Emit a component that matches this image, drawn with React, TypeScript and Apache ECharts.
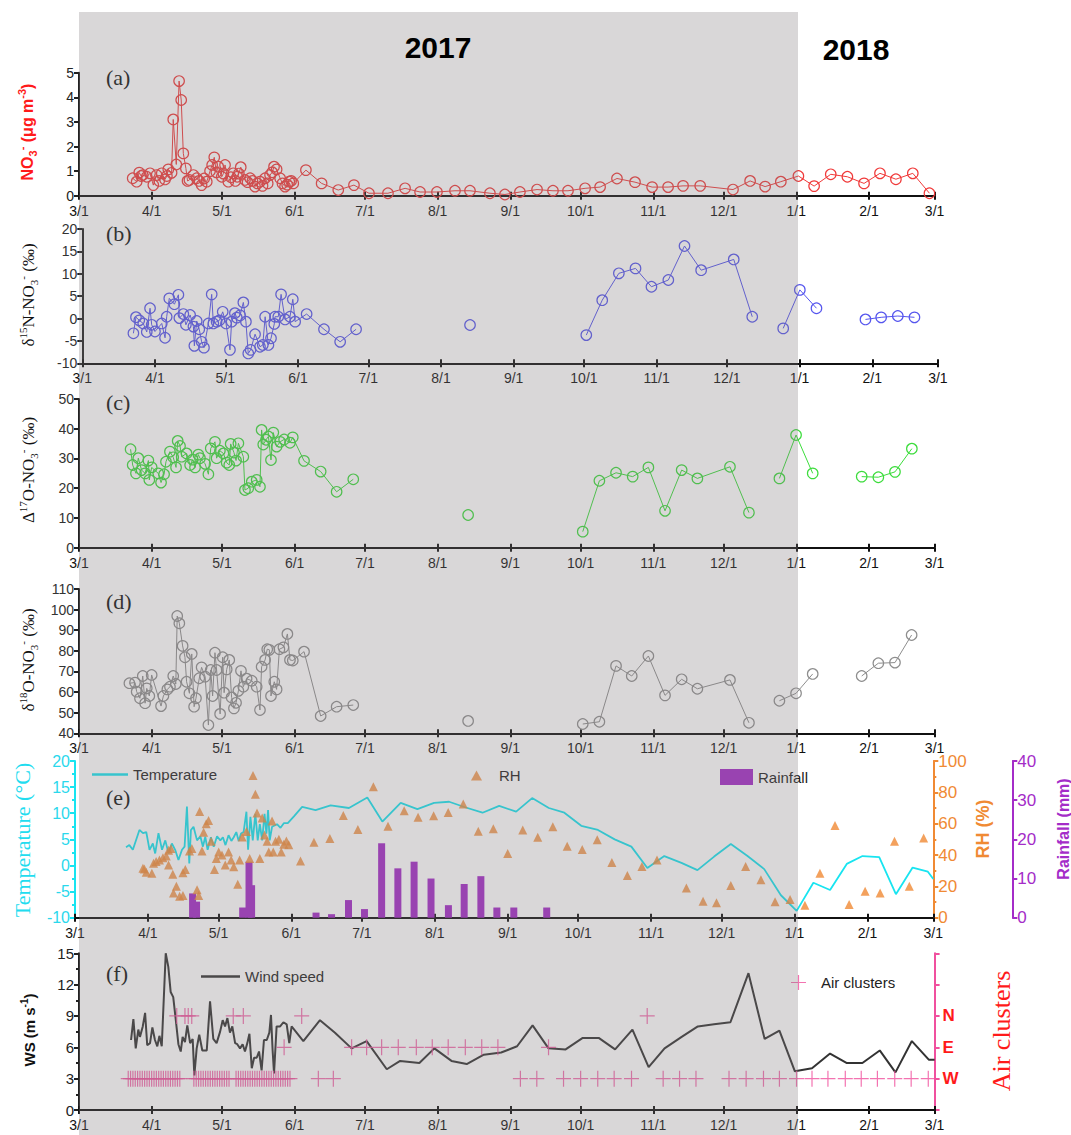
import React, { useEffect, useRef } from 'react';
import * as echarts from 'echarts';

// ---------- x-axis: days since 2017-03-01 ----------
const DAY = 86400000;
const T0 = Date.UTC(2017, 2, 1);
const monthTicks = [
  '2017-03-01', '2017-04-01', '2017-05-01', '2017-06-01', '2017-07-01', '2017-08-01', '2017-09-01',
  '2017-10-01', '2017-11-01', '2017-12-01', '2018-01-01', '2018-02-01', '2018-03-01',
];
const yearLabels = ['2017', '2018'];

// ---------- (a) NO3- (ug m-3) ----------
const no3: [number, number | null][] = [
  [22.9, 0.71], [24.6, 0.57], [25.7, 0.94], [26.5, 0.8], [27.2, 0.84], [28.9, 0.77], [30.3, 0.91], [31.7, 0.43],
  [33.1, 0.84], [34.2, 0.6], [35.3, 0.91], [36.7, 0.66], [37.5, 0.8], [38.1, 1.07], [39.5, 0.93], [40.2, 3.1],
  [41.5, 1.27], [42.7, 4.66], [43.6, 3.89], [44.5, 1.72], [45.6, 1.11], [46.3, 0.6], [47.1, 0.64], [48.8, 0.84],
  [50.2, 0.71], [51.2, 0.6], [52.3, 0.43], [53.4, 0.7], [54.5, 0.57], [55.9, 1.0], [56.8, 1.25], [57.7, 1.56],
  [58.6, 0.95], [59.4, 1.18], [60.9, 0.77], [61.6, 0.9], [62.3, 1.25], [63.7, 0.57], [64.8, 0.75], [65.8, 0.91],
  [66.7, 0.6], [67.5, 0.77], [68.2, 0.9], [69.0, 1.16], [70.8, 0.64], [71.9, 0.55], [73.0, 0.71], [74.0, 0.6],
  [75.1, 0.37], [76.1, 0.5], [77.2, 0.57], [78.3, 0.4], [79.4, 0.71], [80.5, 0.5], [81.5, 0.84], [82.4, 0.95],
  [83.2, 1.18], [84.3, 1.07], [85.8, 0.71], [86.8, 0.5], [87.9, 0.37], [88.8, 0.45], [89.7, 0.57], [90.5, 0.6],
  [91.4, 0.5], [96.8, 1.04], [103.5, 0.5], [110.6, 0.23], [117.3, 0.43], [123.7, 0.1], [131.8, 0.1], [139.1, 0.3],
  [145.5, 0.15], [152.7, 0.15], [160.4, 0.2], [166.8, 0.2], [175.3, 0.1], [181.7, 0.05], [188.1, 0.15], [195.4, 0.25],
  [202.2, 0.2], [208.6, 0.2], [215.9, 0.3], [222.3, 0.35], [229.5, 0.7], [237.2, 0.55], [244.5, 0.35], [251.3, 0.35],
  [257.7, 0.4], [265.0, 0.4], [279.0, 0.25], [286.3, 0.6], [292.7, 0.37], [299.4, 0.57], [306.9, 0.8], [313.6, 0.39],
  [320.7, 0.87], [327.8, 0.77], [334.9, 0.5], [341.7, 0.91], [348.5, 0.67], [355.7, 0.91], [362.8, 0.1],
];

// ---------- (b) d15N-NO3- ----------
const d15N: [number, number | null][] = [
  [21.8, -3.3], [22.9, 0.3], [24.3, -0.4], [26.0, -1.1], [27.5, -3.0], [28.9, 2.3], [29.6, -1.4], [31.0, -2.9],
  [33.9, -1.1], [35.3, -4.3], [36.0, 0.4], [37.1, 4.5], [39.3, 3.2], [41.0, 5.3], [41.4, 0.1], [43.1, 1.0],
  [44.2, -1.4], [46.0, 0.8], [47.4, -1.8], [47.8, -6.1], [48.8, -0.55], [49.9, -2.4], [50.9, -5.2], [51.9, -6.5],
  [53.8, -1.1], [55.2, 5.4], [55.9, -1.1], [57.3, -0.7], [58.5, -0.4], [59.9, 1.5], [61.3, -1.1], [63.0, -7.0],
  [63.7, -0.7], [65.1, 1.2], [65.9, 0.2], [67.3, 0.7], [68.7, 3.6], [69.8, -0.7], [70.8, -7.8], [71.8, -7.0],
  [73.7, -3.5], [75.8, -6.3], [77.0, -5.9], [78.0, 0.4], [79.4, -5.9], [80.5, -4.4], [81.9, -1.2], [82.2, 0.4],
  [83.6, 0.4], [84.8, 5.4], [86.5, -0.2], [88.6, 0.4], [89.8, 4.3], [90.8, -0.7], [95.7, 1.0], [103.1, -2.4],
  [110.0, -5.2], [116.8, -2.4], [140, null], [165.4, -1.45], [190, null], [215.0, -3.7], [221.8, 4.1],
  [228.9, 10.1], [236.0, 11.2], [242.8, 7.1], [250.0, 8.6], [256.9, 16.2], [264.0, 10.8], [277.9, 13.2],
  [285.8, 0.4], [292, null], [299.0, -2.2], [306.1, 6.4], [313.2, 2.3], [324, null], [334.1, -0.2],
  [340.8, 0.27], [347.9, 0.56], [355.0, 0.27],
];

// ---------- (c) D17O-NO3- ----------
const D17O: [number, number | null][] = [
  [22.0, 33.1], [22.9, 27.8], [24.3, 25.0], [25.3, 30.1], [26.7, 26.1], [28.2, 25.0], [29.6, 29.3], [30.0, 22.8],
  [31.0, 27.0], [33.8, 25.0], [35.0, 21.9], [36.3, 24.7], [37.1, 28.9], [38.8, 32.3], [40.2, 30.4], [41.4, 27.0],
  [42.1, 35.9], [43.1, 34.2], [43.8, 30.6], [45.9, 31.7], [47.4, 27.8], [48.5, 29.6], [49.5, 27.0], [50.9, 31.3],
  [51.6, 30.1], [53.8, 28.2], [55.2, 24.7], [56.2, 33.4], [58.0, 35.6], [58.7, 30.1], [60.1, 32.6], [61.6, 31.7],
  [63.0, 28.6], [64.1, 27.8], [64.7, 34.9], [66.1, 32.0], [67.0, 29.3], [68.0, 35.1], [70.1, 30.6], [70.8, 19.4],
  [72.2, 20.0], [73.7, 22.2], [75.8, 22.8], [77.2, 20.5], [77.9, 39.6], [78.6, 34.7], [79.8, 36.3], [80.8, 37.4],
  [81.9, 29.5], [82.9, 38.7], [84.3, 34.0], [85.8, 35.6], [87.5, 36.4], [90.0, 35.3], [91.2, 37.1], [96.0, 29.2],
  [103.1, 25.6], [109.9, 18.8], [117.0, 23.0], [140, null], [166.0, 11.0], [190, null], [214.9, 5.4],
  [222.0, 22.5], [229.1, 25.2], [236.2, 23.9], [242.9, 27.0], [250.0, 12.4], [257.1, 26.1], [263.8, 23.3],
  [277.7, 27.2], [285.8, 11.8], [292, null], [298.8, 23.3], [305.9, 37.9], [313.0, 25.0], [324, null],
  [333.9, 23.9], [341.0, 23.7], [348.1, 25.5], [355.3, 33.3],
];

// ---------- (d) d18O-NO3- ----------
const d18O: [number, number | null][] = [
  [21.5, 64.3], [23.9, 64.6], [24.6, 60.2], [26.0, 57.0], [27.2, 67.8], [28.2, 54.6], [28.9, 61.8], [30.0, 58.1],
  [31.0, 68.3], [35.0, 53.2], [36.0, 58.1], [37.7, 61.3], [38.8, 62.6], [40.2, 67.8], [41.3, 63.9], [41.9, 96.9],
  [42.8, 93.4], [44.2, 82.4], [45.2, 76.9], [45.9, 65.0], [47.1, 59.4], [48.1, 78.5], [49.1, 52.9], [49.9, 57.0],
  [51.3, 66.7], [52.3, 72.0], [53.8, 67.5], [55.2, 44.0], [56.2, 70.7], [57.0, 58.1], [58.0, 79.1], [58.7, 70.7],
  [60.2, 49.4], [61.3, 76.9], [61.9, 59.7], [63.0, 71.0], [64.1, 75.6], [65.1, 57.4], [66.1, 52.1], [67.0, 54.8],
  [68.0, 60.6], [69.1, 70.3], [70.1, 62.6], [71.5, 66.5], [73.7, 65.5], [75.8, 62.6], [77.2, 51.3], [77.9, 72.3],
  [79.4, 75.6], [80.3, 80.8], [81.2, 80.5], [81.9, 58.1], [83.3, 65.0], [84.3, 61.3], [85.5, 80.8], [87.2, 81.7],
  [88.9, 88.2], [90.0, 75.6], [91.2, 75.3], [96.0, 79.6], [103.1, 48.4], [109.9, 52.9], [117.0, 53.7],
  [140, null], [166.0, 46.0], [190, null], [214.9, 44.5], [222.0, 45.6], [229.1, 72.7], [235.8, 67.8],
  [242.9, 77.5], [250.0, 58.4], [257.1, 66.2], [263.8, 61.6], [277.7, 65.9], [285.8, 45.1], [292, null],
  [298.8, 55.8], [305.9, 59.4], [313.0, 68.8], [324, null], [333.9, 67.8], [341.0, 74.0], [348.1, 74.3],
  [355.2, 87.7],
];

// ---------- (e) Temperature (°C), RH (%), Rainfall (mm) ----------
const temperature: [number, number][] = [
  [21.7, 3.5], [23.1, 3.9], [24.6, 3.0], [27.4, 6.8], [28.9, 6.2], [30.3, 6.4], [31.7, 3.0], [33.1, 4.2],
  [34.1, 2.3], [35.5, 6.2], [37.0, 3.0], [38.4, 4.8], [39.8, 2.3], [41.2, 4.2], [42.6, 3.0], [44.0, 1.05],
  [45.5, 3.0], [46.6, 3.6], [47.6, 11.3], [48.6, 0.4], [49.3, 6.8], [50.4, 7.4], [51.9, 4.8], [53.3, 5.6],
  [54.4, 3.6], [55.4, 5.5], [56.4, 3.0], [57.8, 5.4], [59.0, 3.6], [60.4, 5.6], [61.8, 4.8], [62.9, 5.4],
  [64.0, 3.9], [65.3, 5.8], [66.5, 4.7], [67.5, 5.4], [68.6, 6.4], [69.6, 4.7], [70.6, 6.1], [71.7, 6.4],
  [72.9, 10.3], [73.6, 3.0], [74.6, 9.3], [75.6, 4.8], [76.7, 9.9], [77.7, 4.8], [78.6, 7.9], [79.6, 4.8],
  [80.6, 9.9], [81.4, 6.1], [82.1, 10.6], [82.8, 4.8], [83.8, 7.4], [85.9, 7.9], [87.4, 7.2], [88.8, 8.1],
  [90.5, 8.1], [93.1, 9.4], [96.6, 11.2], [102.3, 10.6], [108.7, 11.5], [116.5, 11.0], [124.3, 13.0],
  [130.7, 8.4], [138.5, 12.0], [145.6, 10.8], [152.7, 12.0], [159.1, 12.2], [166.2, 11.1], [173.3, 10.1],
  [180.4, 11.4], [187.6, 10.3], [194.4, 12.9], [201.5, 11.0], [208.1, 10.1], [215.3, 7.6], [222.4, 6.8],
  [229.5, 5.0], [236.6, 3.6], [243.4, -0.5], [250.6, 1.8], [257.9, 0.5], [264.7, -0.9], [271.8, 1.7],
  [278.9, 4.1], [286.0, 1.8], [293.1, -0.7], [300.2, -5.7], [306.9, -8.7], [314.0, -3.3], [321.1, -4.7],
  [328.2, 0.3], [334.9, 1.8], [342.0, 1.6], [349.1, -5.5], [356.2, -0.4], [362.7, -1.2], [365.0, -2.6],
];

const rh: [number, number][] = [
  [28.9, 31.5], [29.5, 31.1], [30.3, 29.0], [32.7, 28.3], [33.4, 34.7], [34.5, 35.8], [35.9, 36.8], [37.4, 38.2],
  [38.8, 39.3], [39.8, 43.1], [39.8, 33.6], [40.8, 44.2], [41.6, 27.7], [41.9, 15.8], [43.1, 20.0], [44.5, 13.7],
  [45.9, 14.2], [45.9, 28.7], [46.9, 30.8], [48.7, 42.5], [49.7, 44.2], [51.9, 17.9], [52.6, 14.2], [53.0, 67.7],
  [54.0, 42.5], [54.7, 54.6], [55.8, 59.9], [56.8, 62.0], [57.9, 48.8], [59.3, 30.8], [60.1, 37.8], [61.1, 42.0],
  [62.5, 40.0], [63.9, 33.6], [65.3, 42.0], [66.4, 36.8], [67.5, 32.5], [69.2, 21.4], [70.0, 36.8], [71.1, 51.5],
  [72.9, 55.0], [74.3, 37.8], [75.7, 90.7], [76.7, 78.8], [77.4, 66.8], [78.6, 37.8], [79.6, 63.6], [80.6, 52.7],
  [81.7, 48.8], [82.4, 42.0], [83.8, 61.7], [84.3, 42.0], [85.3, 48.8], [86.7, 50.0], [87.7, 42.0], [88.8, 46.9],
  [89.9, 49.0], [90.9, 46.5], [95.9, 36.2], [101.6, 48.1], [108.4, 50.6], [114.1, 65.2], [120.3, 56.3],
  [126.9, 83.6], [133.1, 58.4], [140.0, 68.3], [145.9, 64.1], [152.5, 65.1], [158.7, 67.2], [165.1, 72.5],
  [171.5, 55.1], [177.9, 56.7], [184.0, 41.0], [190.4, 56.0], [196.8, 51.4], [203.2, 58.1], [209.3, 45.6],
  [215.7, 43.5], [222.1, 49.8], [228.3, 35.3], [234.9, 26.9], [241.1, 32.6], [247.5, 36.8], [260.0, 18.9],
  [267.1, 10.5], [272.8, 9.5], [278.9, 20.6], [285.2, 32.6], [291.7, 24.2], [297.7, 10.1], [304.1, 11.6],
  [310.4, 8.0], [316.8, 28.4], [323.2, 58.9], [329.2, 8.4], [336.0, 16.8], [342.4, 15.8], [348.5, 48.8],
  [354.8, 20.1], [360.9, 50.9],
];

const rainfall: [number, number][] = [
  [50.0, 6.2], [51.7, 4.1], [71.3, 2.6], [74.0, 14.3], [75.1, 8.3], [102.5, 1.3], [109.1, 0.9], [116.3, 4.5],
  [123.1, 2.2], [130.4, 19.0], [137.3, 12.6], [144.2, 14.3], [151.4, 10.0], [158.8, 3.2], [165.5, 8.6],
  [172.6, 10.6], [179.4, 2.6], [186.6, 2.6], [200.6, 2.6],
];

// ---------- (f) Wind speed (m s-1), Air clusters ----------
const windSpeed: [number, number][] = [
  [22.2, 6.7], [23.2, 8.7], [24.2, 5.9], [25.3, 7.7], [26.0, 7.0], [27.2, 8.0], [28.2, 9.3], [29.1, 6.2],
  [30.3, 6.4], [31.3, 7.9], [32.4, 6.7], [33.4, 6.1], [34.3, 7.1], [35.3, 6.1], [37.0, 15.0], [38.1, 13.7],
  [39.1, 11.3], [40.2, 10.8], [41.3, 8.6], [42.4, 6.3], [43.4, 5.6], [44.2, 7.0], [45.2, 6.5], [46.2, 8.1],
  [47.4, 6.4], [48.5, 6.8], [49.2, 3.3], [50.2, 5.9], [51.3, 7.2], [52.6, 5.7], [54.5, 5.7], [55.9, 10.4],
  [57.3, 6.8], [58.7, 6.4], [60.2, 7.5], [61.3, 8.6], [62.3, 8.0], [63.3, 8.8], [64.4, 7.4], [65.4, 8.0],
  [66.6, 6.4], [67.5, 6.3], [68.7, 5.9], [69.8, 6.3], [70.8, 5.6], [71.8, 6.4], [72.7, 7.3], [73.7, 4.0],
  [74.7, 5.0], [75.8, 5.0], [76.8, 5.6], [77.9, 3.8], [78.9, 6.7], [80.1, 6.7], [81.2, 7.4], [81.9, 9.1],
  [82.6, 5.7], [83.2, 3.5], [84.3, 8.0], [85.8, 8.0], [87.2, 8.4], [88.6, 8.2], [89.7, 6.4], [90.7, 8.0],
  [95.7, 6.6], [102.8, 8.6], [109.2, 7.4], [116.3, 5.9], [122.7, 6.6], [131.3, 3.9], [137.0, 4.7],
  [145.2, 4.5], [151.6, 5.9], [158.9, 4.7], [165.4, 4.4], [172.7, 5.3], [180.1, 5.5], [186.9, 6.1],
  [193.5, 8.1], [200.3, 5.9], [207.6, 5.8], [214.9, 6.9], [221.7, 6.9], [228.7, 5.8], [236.1, 7.7],
  [243.0, 4.1], [249.8, 5.9], [257.1, 7.0], [264.0, 8.0], [270.9, 8.2], [277.9, 8.4], [285.6, 13.1],
  [292.5, 6.8], [298.8, 7.6], [305.4, 3.7], [312.7, 4.0], [320.4, 5.4], [327.4, 4.5], [334.2, 4.5],
  [341.6, 5.7], [348.3, 3.6], [355.3, 6.6], [362.6, 4.8], [365.0, 4.8],
];

const clusterNames = ['W', 'E', 'N'];
const clusterW = [
  21, 22, 23, 24, 25, 26, 27, 28, 29, 30, 31, 32, 33, 34, 35, 36, 37, 38, 39, 40, 41, 42, 43,
  49, 50, 51, 52, 53, 54, 55, 56, 57, 58, 59, 60, 61, 62, 63, 64,
  67, 68, 69, 70, 71, 72, 73, 74, 75, 76, 77, 78, 79, 80, 81, 82, 83, 84, 85, 86, 87, 88, 89, 90,
  102.1, 108.5, 188.3, 195.3, 206.7, 214.0, 221.3, 228.3, 235.7, 249.2, 256.2, 263.2, 277.3, 284.6,
  292.0, 298.8, 306.1, 312.7, 319.5, 326.9, 333.7, 340.6, 348.0, 355.0, 362.3,
];
const clusterE = [87.5, 116.3, 122.7, 129.1, 136.2, 143.9, 150.7, 157.5, 164.8, 171.8, 178.7, 200.3];
const clusterN = [41.7, 45.2, 46.6, 48.1, 65.8, 70.1, 95.0, 242.4];

// ---------- helpers ----------
const SANS = "'Liberation Sans', Arial, sans-serif";
const SERIF = "'Liberation Serif', 'Times New Roman', serif";
const parseDay = (s: string) => {
  const [y, m, d] = s.split('-').map(Number);
  return Math.round((Date.UTC(y, m - 1, d) - T0) / DAY);
};
const monthDays = monthTicks.map(parseDay);
const X_MAX = monthDays[monthDays.length - 1];
const toData = (arr: [number, number | null][]) => arr.map(([d, v]) => [d, v === null ? '-' : v]);
const fmtDay = (v: number) => {
  const dt = new Date(T0 + v * DAY);
  return `${dt.getUTCMonth() + 1}/${dt.getUTCDate()}`;
};
const clusterLevel: Record<string, number> = { W: 3, E: 6, N: 9 };

const PLUS = 'path://M4.6,0H5.4V4.6H10V5.4H5.4V10H4.6V5.4H0V4.6H4.6Z';

const RED = '#f03a3a';
const BLUE = '#5656ee';
const GREEN = '#3cdc3c';
const GRAY = '#8e8e8e';
const CYAN = '#18e4f0';
const ORANGE = '#f08a34';
const PURPLE = '#a42cc8';
const PINK = '#f0509e';

const grids = [
  { left: 79, top: 72.7, width: 855.6, height: 123 },
  { left: 82.3, top: 229, width: 855.6, height: 134.3 },
  { left: 79, top: 399, width: 855.6, height: 148.7 },
  { left: 79, top: 589, width: 855.6, height: 144.3 },
  { left: 75, top: 761, width: 858.3, height: 156.7 },
  { left: 79, top: 953.3, width: 855.6, height: 156.7 },
];

function xAxis(i: number) {
  return {
    type: 'value',
    gridIndex: i,
    position: 'bottom',
    min: 0,
    max: X_MAX,
    axisLine: { show: true, onZero: false, lineStyle: { color: '#111', width: 2 } },
    axisTick: { show: true, customValues: monthDays, length: 4, lineStyle: { color: '#111', width: 2 } },
    axisLabel: {
      show: true, customValues: monthDays, formatter: fmtDay, fontSize: 14, color: '#111',
      fontFamily: SANS, margin: 8, hideOverlap: false, showMinLabel: true, showMaxLabel: true,
    },
    splitLine: { show: false },
  };
}

// second x-axis per grid: only inward ticks, so month ticks cross the axis line
function xAxisInner(i: number) {
  return {
    type: 'value',
    gridIndex: i,
    position: 'bottom',
    min: 0,
    max: X_MAX,
    axisLine: { show: false, onZero: false },
    axisTick: { show: true, inside: true, customValues: monthDays, length: 4, lineStyle: { color: '#111', width: 2 } },
    axisLabel: { show: false },
    splitLine: { show: false },
  };
}

function yAxis(gridIndex: number, min: number, max: number, interval: number, color: string, labelColor: string, extra: any = {}) {
  return {
    type: 'value',
    gridIndex,
    min,
    max,
    interval,
    axisLine: { show: true, onZero: false, lineStyle: { color, width: 2 } },
    axisTick: { show: true, length: 5, lineStyle: { color, width: 2 } },
    axisLabel: { show: true, fontSize: 14, color: labelColor, fontFamily: SANS, margin: 5 },
    splitLine: { show: false },
    ...extra,
  };
}

function circleLine(name: string, data: any[], color: string, i: number) {
  return {
    name,
    type: 'line',
    xAxisIndex: i,
    yAxisIndex: i,
    data,
    symbol: 'circle',
    symbolSize: 10.5,
    showSymbol: true,
    connectNulls: false,
    lineStyle: { color, width: 1 },
    itemStyle: { color: 'rgba(255,255,255,0)', borderColor: color, borderWidth: 1.2 },
    z: 3,
  };
}

function vText(x: number, y: number, text: string, rich: any, z = 110) {
  return {
    type: 'text',
    x,
    y,
    rotation: Math.PI / 2,
    z,
    silent: true,
    style: { text, rich, align: 'center', verticalAlign: 'middle' },
  };
}

function isoNameRich(color: string) {
  return {
    t: { fontSize: 17, fontFamily: SERIF, fill: color, lineHeight: 22 },
    s: { fontSize: 11, fontFamily: SERIF, fill: color, lineHeight: 11, verticalAlign: 'top' },
    d: { fontSize: 11, fontFamily: SERIF, fill: color, lineHeight: 11, verticalAlign: 'bottom' },
  };
}

export default function App() {
  const ref = useRef<HTMLDivElement>(null);

  useEffect(() => {
    if (!ref.current) return;
    const chart = echarts.init(ref.current, undefined, { renderer: 'svg' });

    const airData = [
      ...clusterW.map((d) => [d, clusterLevel[clusterNames[0]]]),
      ...clusterE.map((d) => [d, clusterLevel[clusterNames[1]]]),
      ...clusterN.map((d) => [d, clusterLevel[clusterNames[2]]]),
    ];

    const legendText = { fontSize: 15, color: '#222', fontFamily: SANS };

    const option: any = {
      animation: false,
      backgroundColor: '#ffffff',
      grid: grids.map((g) => ({ ...g, containLabel: false, outerBoundsMode: 'none' })),
      xAxis: [...grids.map((_, i) => xAxis(i)), ...grids.map((_, i) => xAxisInner(i))],
      yAxis: [
        yAxis(0, 0, 5, 1, '#222', '#222'),
        yAxis(1, -10, 20, 5, '#222', '#333'),
        yAxis(2, 0, 50, 10, '#222', '#333'),
        yAxis(3, 40, 110, 10, '#222', '#333'),
        yAxis(4, -10, 20, 5, CYAN, '#2ad8ec', {
          minorTick: { show: true, splitNumber: 2, length: 3, lineStyle: { color: CYAN, width: 2 } },
          axisLabel: { show: true, fontSize: 16, color: '#2ad8ec', fontFamily: SANS, margin: 5 },
        }),
        yAxis(4, 0, 100, 20, ORANGE, ORANGE, {
          position: 'right',
          minorTick: { show: true, splitNumber: 2, length: 3, lineStyle: { color: ORANGE, width: 2 } },
          axisLabel: { show: true, fontSize: 17, color: ORANGE, fontFamily: SANS, margin: 5 },
        }),
        yAxis(4, 0, 40, 10, PURPLE, PURPLE, {
          position: 'right',
          offset: 79,
          axisLabel: { show: true, fontSize: 17, color: PURPLE, fontFamily: SANS, margin: 5 },
        }),
        yAxis(5, 0, 15, 3, '#222', '#222', {
          minorTick: { show: true, splitNumber: 2, length: 3, lineStyle: { color: '#222', width: 2 } },
          axisLabel: { show: true, fontSize: 15, color: '#222', fontFamily: SANS, margin: 5 },
        }),
        yAxis(5, 0, 15, 3, PINK, '#ff1a1a', {
          position: 'right',
          axisLabel: {
            show: true, fontSize: 17, fontWeight: 'bold', color: '#ff1a1a', fontFamily: SANS, margin: 8,
            formatter: (v: number) => {
              const k = Object.keys(clusterLevel).find((c) => clusterLevel[c] === v);
              return k || '';
            },
          },
        }),
      ],
      legend: [
        {
          data: [{ name: 'Temperature', icon: 'rect' }], left: 92, top: 767, padding: 0, itemWidth: 36, itemHeight: 2.5,
          textStyle: legendText,
        },
        {
          data: [{ name: 'RH', icon: 'triangle' }], left: 471, top: 768, padding: 0, itemWidth: 11, itemHeight: 10,
          textStyle: { ...legendText, padding: [0, 0, 0, 12] },
        },
        {
          data: [{ name: 'Rainfall', icon: 'rect' }], left: 720, top: 769, padding: 0, itemWidth: 33, itemHeight: 16,
          textStyle: legendText,
        },
        {
          data: [{ name: 'Wind speed', icon: 'rect' }], left: 201, top: 969, padding: 0, itemWidth: 39, itemHeight: 2.5,
          textStyle: legendText,
        },
        {
          data: ['Air clusters'], left: 791, top: 975, padding: 0, itemWidth: 15, itemHeight: 16,
          textStyle: { ...legendText, padding: [0, 0, 0, 10] },
        },
      ],
      series: [
        circleLine('NO3-', toData(no3), RED, 0),
        circleLine('d15N', toData(d15N), BLUE, 1),
        circleLine('D17O', toData(D17O), GREEN, 2),
        circleLine('d18O', toData(d18O), GRAY, 3),
        {
          name: 'Rainfall', type: 'bar', xAxisIndex: 4, yAxisIndex: 6, barWidth: 7,
          data: toData(rainfall), itemStyle: { color: PURPLE }, z: 2,
        },
        {
          name: 'Temperature', type: 'line', xAxisIndex: 4, yAxisIndex: 4, symbol: 'none',
          data: toData(temperature), lineStyle: { color: CYAN, width: 1.8 }, itemStyle: { color: CYAN }, z: 3,
        },
        {
          name: 'RH', type: 'scatter', xAxisIndex: 4, yAxisIndex: 5, symbol: 'triangle', symbolSize: 9,
          data: toData(rh), itemStyle: { color: ORANGE }, z: 4,
        },
        {
          name: 'Wind speed', type: 'line', xAxisIndex: 5, yAxisIndex: 7, symbol: 'none',
          data: toData(windSpeed), lineStyle: { color: '#333', width: 2 }, itemStyle: { color: '#333' }, z: 3,
        },
        {
          name: 'Air clusters', type: 'scatter', xAxisIndex: 5, yAxisIndex: 8, symbol: PLUS, symbolSize: [15, 16],
          data: airData, itemStyle: { color: PINK }, z: 4,
        },
      ],
      graphic: [
        {
          type: 'rect', z: 100, silent: true,
          shape: { x: 79, y: 12, width: 719, height: 1123 },
          style: { fill: 'rgba(128,122,125,0.3)' },
        },
        {
          type: 'text', z: 110, silent: true, x: 438, y: 47,
          style: { text: yearLabels[0], font: `bold 30px ${SANS}`, fill: '#000', align: 'center', verticalAlign: 'middle' },
        },
        {
          type: 'text', z: 110, silent: true, x: 856, y: 49,
          style: { text: yearLabels[1], font: `bold 30px ${SANS}`, fill: '#000', align: 'center', verticalAlign: 'middle' },
        },
        ...[['(a)', 77], ['(b)', 233], ['(c)', 402], ['(d)', 601], ['(e)', 797], ['(f)', 973]].map(([t, y]) => ({
          type: 'text', z: 110, silent: true, x: 106, y: y as number,
          style: { text: t as string, font: `22px ${SERIF}`, fill: '#333', align: 'left', verticalAlign: 'middle' },
        })),
        vText(27, 132, '{b|NO}{d|3}{s|-}{b| (μg m}{s|-3}{b|)}', {
          b: { fontSize: 16, fontWeight: 'bold', fontFamily: SANS, fill: '#ff1a1a', lineHeight: 22 },
          s: { fontSize: 11, fontWeight: 'bold', fontFamily: SANS, fill: '#ff1a1a', lineHeight: 11, verticalAlign: 'top' },
          d: { fontSize: 11, fontWeight: 'bold', fontFamily: SANS, fill: '#ff1a1a', lineHeight: 11, verticalAlign: 'bottom' },
        }),
        vText(28, 295, '{t|δ}{s|15}{t|N-NO}{d|3}{s|-}{t| (‰)}', isoNameRich('#111')),
        vText(28, 470, '{t|Δ}{s|17}{t|O-NO}{d|3}{s|-}{t| (‰)}', isoNameRich('#111')),
        vText(28, 660, '{t|δ}{s|18}{t|O-NO}{d|3}{s|-}{t| (‰)}', isoNameRich('#111')),
        vText(22, 840, '{t|Temperature (°C)}', { t: { fontSize: 22, fontFamily: SERIF, fill: '#22dcef' } }),
        vText(983, 829, '{t|RH (%)}', { t: { fontSize: 18, fontWeight: 'bold', fontFamily: SANS, fill: ORANGE } }),
        vText(1063, 829, '{t|Rainfall (mm)}', { t: { fontSize: 16, fontWeight: 'bold', fontFamily: SANS, fill: PURPLE } }),
        vText(29, 1030, '{b|WS (m s}{s|-1}{b|)}', {
          b: { fontSize: 15, fontWeight: 'bold', fontFamily: SANS, fill: '#111', lineHeight: 20 },
          s: { fontSize: 10, fontWeight: 'bold', fontFamily: SANS, fill: '#111', lineHeight: 10, verticalAlign: 'top' },
        }),
        vText(1001, 1031, '{t|Air clusters}', { t: { fontSize: 26, fontFamily: SERIF, fill: '#ff1a1a' } }),
      ],
    };

    chart.setOption(option);
    return () => chart.dispose();
  }, []);

  return (
    <div
      ref={ref}
      style={{ position: 'absolute', left: 0, top: 0, width: 1071, height: 1135, background: '#fff' }}
    />
  );
}
